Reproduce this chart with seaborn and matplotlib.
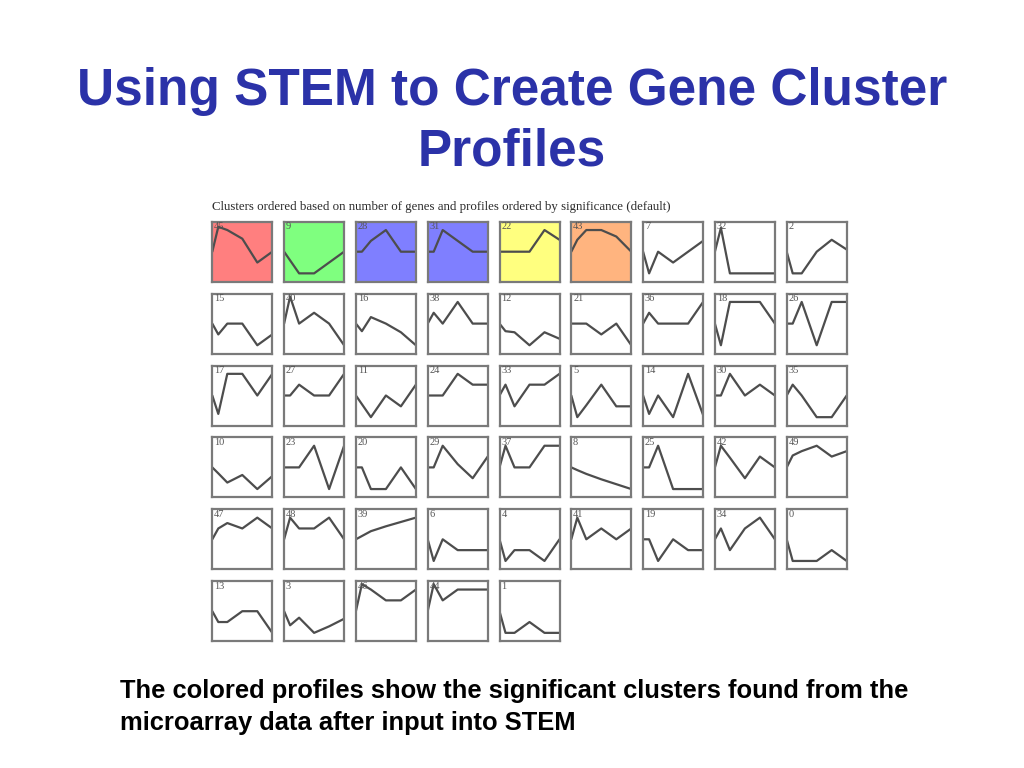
import numpy as np
import pandas as pd
from matplotlib import pyplot as plt
import seaborn as sns

# time points used by every profile
times = [0, 0.1, 0.25, 0.5, 0.75, 1.0]

row1_ids = [45, 9, 28, 31, 22, 43, 7, 32, 2]
row1_vals = [[0, 2.3, 2.0, 1.2, -1.0, 0], [0, -0.8, -2, -2, -1, 0], [0, 0, 1, 2, 0, 0],
             [0, 0, 2, 1, 0, 0], [0, 0, 0, 0, 2, 1.1], [0, 1.1, 2, 2, 1.4, 0],
             [0, -2, 0, -1, 0, 1], [0, 2.2, -2, -2, -2, -2], [0, -2, -2, 0, 1.1, 0.2]]

row2_ids = [15, 40, 16, 38, 12, 21, 36, 18, 26]
row2_vals = [[0, -1, 0, 0, -2, -1], [0, 2.5, 0, 1, 0, -2], [0, -0.7, 0.6, 0, -0.8, -2],
             [0, 1, 0, 2, 0, 0], [0, -0.7, -0.8, -2, -0.8, -1.4], [0, 0, 0, -1, 0, -2],
             [0, 1, 0, 0, 0, 2], [0, -2, 2, 2, 2, 0], [0, 0, 2, -2, 2, 2]]

row3_ids = [17, 27, 11, 24, 33, 5, 14, 30, 35]
row3_vals = [[0, -1.7, 2, 2, 0, 2], [0, 0, 1, 0, 0, 2], [0, -0.8, -2, 0, -1, 1],
             [0, 0, 0, 2, 1, 1], [0, 1, -1, 1, 1, 2], [0, -2, -0.9, 1, -1, -1],
             [0, -1.7, 0, -2, 2, -1.8], [0, 0, 2, 0, 1, 0], [0, 1, 0, -2, -2, 0]]

row4_ids = [10, 23, 20, 29, 37, 8, 25, 42, 49]
row4_vals = [[0, -0.55, -1.4, -0.7, -2, -0.8], [0, 0, 0, 2, -2, 2], [0, 0, -2, -2, 0, -2],
             [0, 0, 2, 0.3, -1, 1], [0, 2, 0, 0, 2, 2], [0, -0.25, -0.6, -1.1, -1.55, -2],
             [0, 0, 2, -2, -2, -2], [0, 2, 0.9, -1, 1, 0], [0, 1.1, 1.5, 2, 1, 1.5]]

row5_ids = [47, 48, 39, 6, 4, 41, 19, 34, 0]
row5_vals = [[0, 1, 1.5, 1, 2, 1], [0, 2, 1, 1, 2, 0], [0, 0.3, 0.75, 1.2, 1.6, 2],
             [0, -2, 0, -1, -1, -1], [0, -2, -1, -1, -2, 0], [0, 2, 0, 1, 0, 1],
             [0, 0, -2, 0, -1, -1], [0, 1, -1, 1, 2, 0], [0, -2, -2, -2, -1, -2]]

row6_ids = [13, 3, 46, 44, 1]
row6_vals = [[0, -1, -1, 0, 0, -2], [0, -1.3, -0.6, -2, -1.4, -0.7], [0, 2.5, 2, 1, 1, 2],
             [0, 2.5, 1, 2, 2, 2], [0, -2, -2, -1, -2, -2]]

# significant profiles get a fill colour
sig_colors = {45: "#ff7f7f", 9: "#7fff7f", 28: "#7f7fff", 31: "#7f7fff",
              22: "#ffff7f", 43: "#ffb47f"}

rows = [(row1_ids, row1_vals), (row2_ids, row2_vals), (row3_ids, row3_vals),
        (row4_ids, row4_vals), (row5_ids, row5_vals), (row6_ids, row6_vals)]

recs = []
for r, (ids, vals) in enumerate(rows):
    for c, (pid, v) in enumerate(zip(ids, vals)):
        for t, y in zip(times, v):
            recs.append({"row": r, "col": c, "id": pid, "time": t, "value": y})
df = pd.DataFrame(recs)

sns.set_theme(style="white")
plt.rcParams['font.family'] = ['Liberation Sans', 'DejaVu Sans']

W, H = 1024, 768
fig = plt.figure(figsize=(W / 100, H / 100), dpi=100)
fig.patch.set_facecolor("white")

x0, y0, pitch_x, pitch_y, size = 212.3, 221.7, 71.8, 71.9, 60

for (r, c, pid), sub in df.groupby(["row", "col", "id"]):
    left = x0 + c * pitch_x
    top = y0 + r * pitch_y
    ax = fig.add_axes([left / W, 1 - (top + size) / H, size / W, size / H])
    sns.lineplot(data=sub, x="time", y="value", ax=ax, color="#4d4d4d",
                 linewidth=1.6, estimator=None, sort=False)
    ax.set_xlim(0, 1)
    ax.set_ylim(-2.77, 2.77)
    ax.set_xticks([])
    ax.set_yticks([])
    ax.set(xlabel="", ylabel="")
    ax.set_facecolor(sig_colors.get(pid, "white"))
    for s in ax.spines.values():
        s.set_color("#7a7a7a")
        s.set_linewidth(1.6)
    ax.text(0.03, 0.99, str(pid), transform=ax.transAxes, ha="left", va="top",
            fontsize=7.5, family="Liberation Serif", color="#555555")

title_color = "#2b32a8"
fig.text(0.5, 1 - 105 / H, "Using STEM to Create Gene Cluster", ha="center", va="baseline",
         fontsize=37, fontweight="bold", color=title_color)
fig.text(0.5, 1 - 165 / H, "Profiles", ha="center", va="baseline",
         fontsize=37, fontweight="bold", color=title_color)

fig.text(212 / W, 1 - 207 / H,
         "Clusters ordered based on number of genes and profiles ordered by significance (default)",
         ha="left", va="center", fontsize=9.3, family="Liberation Serif", color="#2a2a2a")

fig.text(120 / W, 1 - 698 / H, "The colored profiles show the significant clusters found from the",
         ha="left", va="baseline", fontsize=18.4, fontweight="bold", color="black")
fig.text(120 / W, 1 - 730 / H, "microarray data after input into STEM",
         ha="left", va="baseline", fontsize=18.4, fontweight="bold", color="black")

plt.savefig("out.png", dpi=100)
